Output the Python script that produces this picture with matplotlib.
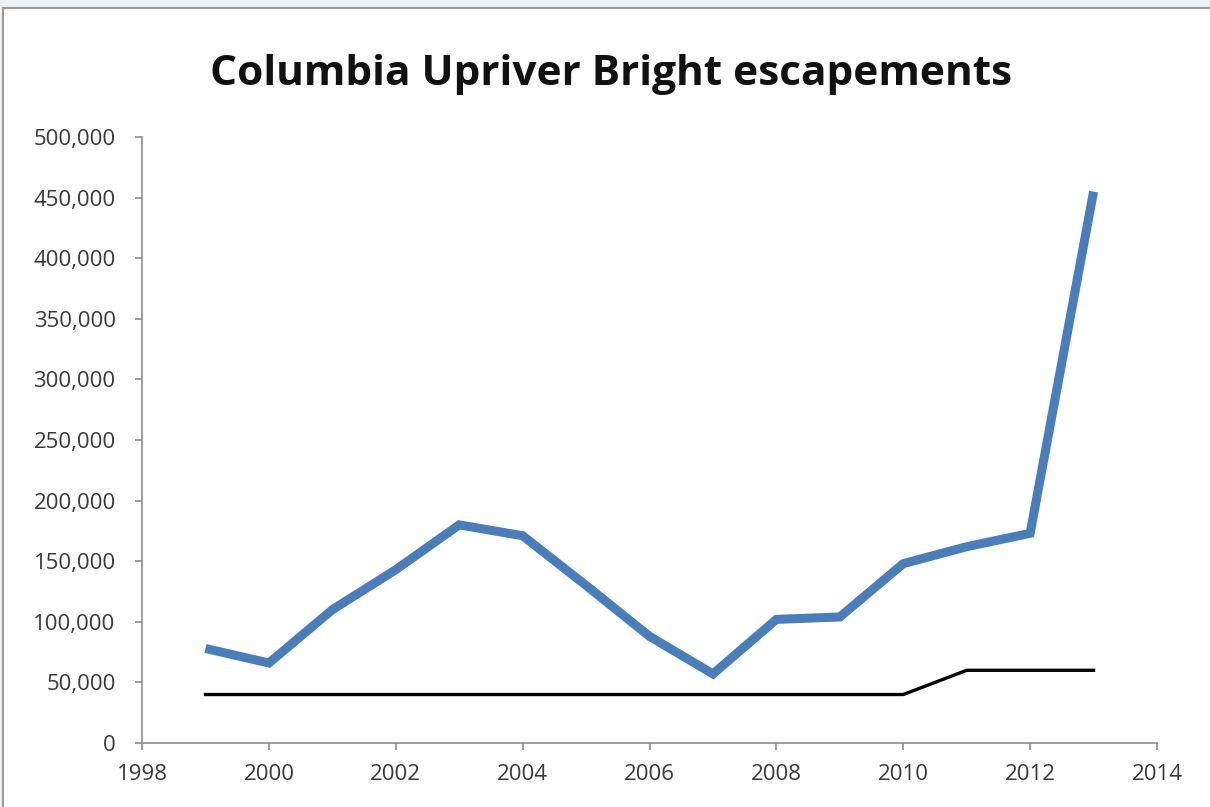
import matplotlib.pyplot as plt
from matplotlib.patches import Rectangle
from matplotlib.ticker import FuncFormatter

# escapement counts
years = [1999, 2000, 2001, 2002, 2003, 2004, 2005, 2006, 2007, 2008, 2009, 2010, 2011, 2012, 2013]
escapement = [78000, 66000, 110000, 143000, 180000, 171000, 130000, 88000, 57000, 102000, 104000, 148000, 162000, 173000, 455000]
goal = [40000, 40000, 40000, 40000, 40000, 40000, 40000, 40000, 40000, 40000, 40000, 40000, 60000, 60000, 60000]

plt.rcParams['font.family'] = ['Open Sans', 'DejaVu Sans']

fig = plt.figure(figsize=(12.1, 8.07), dpi=100)
fig.patch.set_facecolor('#eef2f4')
# white card with thin grey frame, like the screenshot
fig.patches.append(Rectangle((3 / 1210, -0.01), 1.0, 1 - 8 / 807 + 0.01,
                             transform=fig.transFigure, facecolor='white',
                             edgecolor='#9a9a9a', linewidth=1.5, zorder=-5))

ax = fig.add_axes([0.1174, 0.0793, 0.8388, 0.7509])
ax.set_facecolor('none')

ax.plot(years, escapement, color='#4a7ebb', linewidth=6.5, solid_joinstyle='miter',
        solid_capstyle='butt')
ax.plot(years, goal, color='black', linewidth=2.4)

ax.set_xlim(1998, 2014)
ax.set_ylim(0, 500000)
ax.set_xticks(range(1998, 2015, 2))
ax.set_yticks(range(0, 500001, 50000))
ax.yaxis.set_major_formatter(FuncFormatter(lambda v, p: f'{int(v):,}'))

for side in ['top', 'right']:
    ax.spines[side].set_visible(False)
for side in ['left', 'bottom']:
    ax.spines[side].set_color('#8c8c8c')
    ax.spines[side].set_linewidth(1.2)
ax.tick_params(axis='both', colors='#8c8c8c', length=5, width=1.2,
               labelsize=16, labelcolor='#3a3a3a')
ax.tick_params(axis='y', pad=14)
ax.tick_params(axis='x', pad=10)

fig.text(0.505, 0.908, 'Columbia Upriver Bright escapements', ha='center', va='center',
         fontsize=30.5, fontweight='bold', color='#111111')

fig.savefig('out.png', dpi=100, facecolor=fig.get_facecolor())
